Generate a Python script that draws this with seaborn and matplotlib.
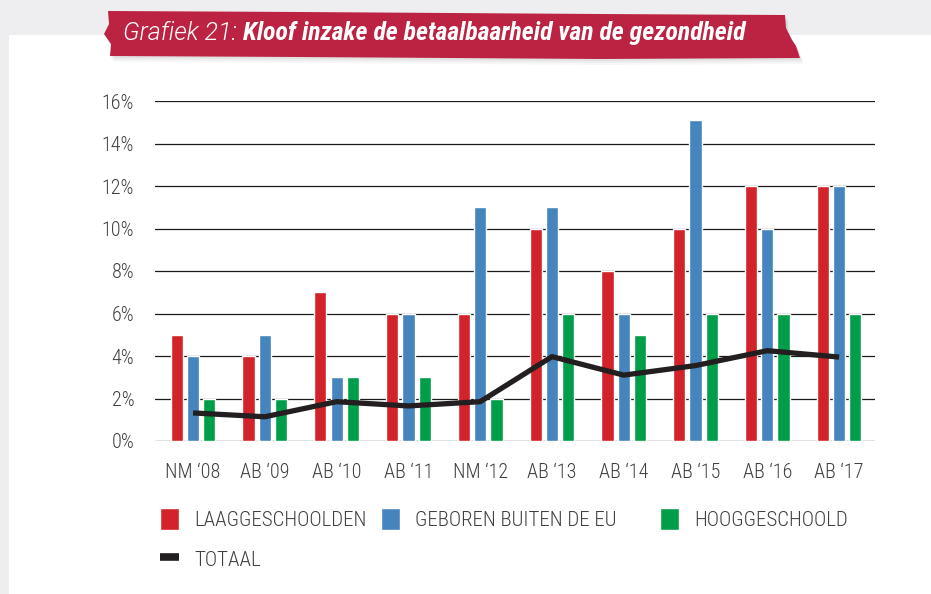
import numpy as np
import pandas as pd
import matplotlib.pyplot as plt
import seaborn as sns
from matplotlib.patches import Patch, Polygon, Rectangle
from matplotlib.lines import Line2D
from matplotlib.ticker import FuncFormatter

# data
jaren = ["NM \u201808", "AB \u201809", "AB \u201810", "AB \u201811", "NM \u201812",
         "AB \u201813", "AB \u201814", "AB \u201815", "AB \u201816", "AB \u201817"]
laaggeschoolden = [5, 4, 7, 6, 6, 10, 8, 10, 12, 12]
buiten_eu = [4, 5, 3, 6, 11, 11, 6, 15.1, 10, 12]
hooggeschoold = [2, 2, 3, 3, 2, 6, 5, 6, 6, 6]
totaal = [1.32, 1.14, 1.85, 1.65, 1.85, 3.97, 3.1, 3.55, 4.25, 3.95]
groepen = ["LAAGGESCHOOLDEN", "GEBOREN BUITEN DE EU", "HOOGGESCHOOLD"]
kleuren = ["#D2232A", "#4584BD", "#009E49"]

df = pd.DataFrame({
    "jaar": jaren * 3,
    "groep": [groepen[0]] * 10 + [groepen[1]] * 10 + [groepen[2]] * 10,
    "waarde": laaggeschoolden + buiten_eu + hooggeschoold,
})

sns.set_style("white")
plt.rcParams["font.family"] = ["Roboto Condensed", "DejaVu Sans"]
plt.rcParams["font.weight"] = 300
tekst = "#404040"

fig = plt.figure(figsize=(9.31, 5.94), dpi=100, facecolor="#eeeef0")
# white page
fig.patches.append(Rectangle((9 / 931, 0), 1, 1 - 35 / 594, transform=fig.transFigure,
                             facecolor="white", edgecolor="none", zorder=-5))

ax = fig.add_axes([155 / 931, 1 - 441 / 594, 720 / 931, 340 / 594])
ax.set_facecolor("none")

sns.barplot(data=df, x="jaar", y="waarde", hue="groep", palette=kleuren, saturation=1,
            width=0.68, gap=0.25, legend=False, ax=ax, zorder=3)
sns.lineplot(x=np.arange(len(jaren)), y=totaal, color="#231F20", linewidth=3.8,
             solid_capstyle="butt", ax=ax, zorder=4)

ax.set_ylim(0, 16)
ax.set_xlim(-0.53, 9.5)
ax.set_yticks(range(0, 17, 2))
ax.yaxis.set_major_formatter(FuncFormatter(lambda v, p: f"{v:.0f}%"))
ax.grid(axis="y", color="#1a1a1a", linewidth=0.9, zorder=1)
ax.set_axisbelow(True)
for s in ax.spines.values():
    s.set_visible(False)
ax.tick_params(axis="both", length=0, labelsize=14.5, colors=tekst)
ax.tick_params(axis="y", pad=15)
ax.tick_params(axis="x", pad=16)
ax.set_xlabel("")
ax.set_ylabel("")

# legend: three columns at fixed positions
leg_kw = dict(loc="upper left", frameon=False, fontsize=15, handlelength=0.9,
              handleheight=1.25, handletextpad=0.75, labelspacing=0.85, borderpad=0,
              borderaxespad=0, labelcolor=tekst)
kolommen = [
    (160, [Patch(facecolor=kleuren[0]),
           Line2D([0], [0], color="#231F20", linewidth=5.5, solid_capstyle="butt")],
     [groepen[0], "TOTAAL"]),
    (381, [Patch(facecolor=kleuren[1])], [groepen[1]]),
    (660, [Patch(facecolor=kleuren[2])], [groepen[2]]),
]
for x0, h, lab in kolommen:
    fig.legend(h, lab, bbox_to_anchor=(x0 / 931, 1 - 508 / 594), **leg_kw)

# title banner
def px(x, y):
    return (x / 931, 1 - y / 594)

banner = [(108, 11), (300, 12), (600, 14), (785, 15), (786, 28), (792, 40), (796, 46),
          (800, 58), (600, 59), (300, 57), (110, 56), (111, 44), (104, 34), (109, 24)]
for off, a in [(6, 0.05), (4, 0.07), (2, 0.09)]:
    fig.patches.append(Polygon([px(x + off * 0.6, y + off) for x, y in banner], closed=True,
                               transform=fig.transFigure, facecolor="#6a6a70",
                               edgecolor="none", alpha=a, zorder=1))
fig.patches.append(Polygon([px(x, y) for x, y in banner], closed=True,
                           transform=fig.transFigure, facecolor="#BC2342",
                           edgecolor="none", zorder=2))

t1 = fig.text(123 / 931, 1 - 33 / 594, "Grafiek 21: ", color="white", fontsize=18,
              style="italic", weight=300, va="center", ha="left", zorder=3,
              family="Roboto")
fig.canvas.draw()
bb = t1.get_window_extent()
fig.text(bb.x1 / 931, 1 - 33 / 594, "Kloof inzake de betaalbaarheid van de gezondheid",
         color="white", fontsize=18.5, style="italic", weight="bold", va="center",
         ha="left", zorder=3, family="Roboto Condensed")

plt.savefig("out.png", dpi=100, facecolor=fig.get_facecolor())
plt.close()
